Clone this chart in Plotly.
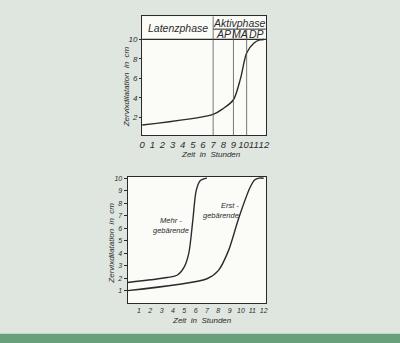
import plotly.graph_objects as go

# ---- data ----
top_hours = [0, 7, 8, 9, 9.7, 10.3, 11, 11.6, 12]
top_dilation = [1.2, 2.3, 2.9, 3.8, 6.0, 8.6, 9.6, 9.95, 10]

mehr_hours = [0, 3.5, 4.4, 5.0, 5.4, 5.75, 6.05, 6.4, 7.0]
mehr_dilation = [1.65, 2.05, 2.25, 2.9, 4.0, 6.6, 9.0, 9.8, 10]

erst_hours = [0, 7, 8, 8.9, 9.8, 10.8, 11.2, 11.6, 12]
erst_dilation = [1.0, 1.95, 2.6, 4.2, 6.8, 9.25, 9.85, 10, 10]

top_xticks = list(range(0, 13))
top_yticks = [2, 4, 6, 8, 10]
bot_xticks = list(range(1, 13))
bot_yticks = list(range(1, 11))

phase_bounds = [7, 9, 10.3]          # Latenz | AP | MA | DP
phase_labels = ["AP", "MA", "DP"]

BG = "#dfe6e0"
PLOT_BG = "#fbfbf8"
INK = "#2b2b2b"
FONT = "Liberation Sans"

fig = go.Figure()

line_style = dict(color=INK, width=1.4, shape="spline", smoothing=0.8)
fig.add_trace(go.Scatter(x=top_hours, y=top_dilation, mode="lines", line=line_style,
                         xaxis="x", yaxis="y", showlegend=False, hoverinfo="skip"))
fig.add_trace(go.Scatter(x=mehr_hours, y=mehr_dilation, mode="lines", line=line_style,
                         xaxis="x2", yaxis="y2", showlegend=False, hoverinfo="skip"))
fig.add_trace(go.Scatter(x=erst_hours, y=erst_dilation, mode="lines", line=line_style,
                         xaxis="x2", yaxis="y2", showlegend=False, hoverinfo="skip"))

tick_font_top = dict(family=FONT, size=9.5, color=INK, style="italic")
tick_font_bot = dict(family=FONT, size=7, color=INK, style="italic")

HEADER_TOP = 12.39
HEADER_MID = 11.06

fig.update_layout(
    width=400, height=343,
    margin=dict(l=0, r=0, t=0, b=0),
    paper_bgcolor=BG, plot_bgcolor=PLOT_BG,
    font=dict(family=FONT, color=INK),
    xaxis=dict(domain=[0.354, 0.669], range=[0, 12.2], tickvals=top_xticks,
               showgrid=False, zeroline=False, showline=True, mirror=True,
               linecolor=INK, linewidth=1, ticks="", tickfont=tick_font_top,
               tickangle=0, anchor="y"),
    yaxis=dict(domain=[0.6093, 0.9583], range=[0.15, HEADER_TOP], tickvals=top_yticks,
               showgrid=False, zeroline=False, showline=True, mirror=True,
               linecolor=INK, linewidth=1, ticks="outside", ticklen=2, tickcolor=INK,
               tickfont=dict(family=FONT, size=8, color=INK, style="italic"),
               anchor="x"),
    xaxis2=dict(domain=[0.317, 0.669], range=[0, 12.2], tickvals=bot_xticks,
                showgrid=False, zeroline=False, showline=True, mirror=True,
                linecolor=INK, linewidth=1, ticks="", tickfont=tick_font_bot,
                tickangle=0, anchor="y2"),
    yaxis2=dict(domain=[0.117, 0.487], range=[0, 10.1], tickvals=bot_yticks,
                showgrid=False, zeroline=False, showline=True, mirror=True,
                linecolor=INK, linewidth=1, ticks="outside", ticklen=3, tickcolor=INK,
                tickfont=tick_font_bot, anchor="x2"),
)

shapes = []
shapes.append(dict(type="line", xref="x domain", yref="y", x0=0, x1=1, y0=10, y1=10,
                   line=dict(color=INK, width=1.2)))
shapes.append(dict(type="line", xref="x", yref="y", x0=phase_bounds[0], x1=12.2,
                   y0=HEADER_MID, y1=HEADER_MID, line=dict(color=INK, width=1)))
shapes.append(dict(type="line", xref="x", yref="y", x0=phase_bounds[0], x1=phase_bounds[0],
                   y0=0.15, y1=HEADER_TOP, line=dict(color="#555", width=0.8)))
for b in phase_bounds[1:]:
    shapes.append(dict(type="line", xref="x", yref="y", x0=b, x1=b,
                       y0=0.15, y1=HEADER_MID, line=dict(color="#555", width=0.8)))
shapes.append(dict(type="rect", xref="paper", yref="paper", x0=-0.1, x1=1.1, y0=-0.1, y1=0.027,
                   fillcolor="#67a07b", line=dict(width=0), layer="below"))
fig.update_layout(shapes=shapes)

hfont = dict(family=FONT, size=10.5, color=INK, style="italic")
annotations = [
    dict(text="Latenzphase", x=phase_bounds[0] / 2, y=(10 + HEADER_TOP) / 2,
         xref="x", yref="y", showarrow=False, font=hfont),
    dict(text="Aktivphase", x=(phase_bounds[0] + 12.2) / 2, y=(HEADER_MID + HEADER_TOP) / 2,
         xref="x", yref="y", showarrow=False, font=hfont),
]
edges = phase_bounds + [12.2]
for i, lab in enumerate(phase_labels):
    annotations.append(dict(text=lab, x=(edges[i] + edges[i + 1]) / 2,
                            y=(10 + HEADER_MID) / 2, xref="x", yref="y",
                            showarrow=False, font=hfont))

tfont = dict(family=FONT, size=8, color=INK, style="italic")
common = dict(xref="paper", yref="paper", showarrow=False, font=tfont,
              xanchor="center", yanchor="middle")
lfont = dict(family=FONT, size=7.5, color=INK, style="italic")
annotations += [
    dict(text="Zeit  in  Stunden", x=211.7 / 400, y=1 - 153 / 343, **common),
    dict(text="Zervixdilatation  in  cm", x=126 / 400, y=1 - 85 / 343, textangle=-90, **common),
    dict(text="Zeit  in  Stunden", x=203 / 400, y=1 - 320 / 343, **common),
    dict(text="Zervixdilatation  in  cm", x=111 / 400, y=1 - 243 / 343, textangle=-90, **common),
    dict(text="Mehr -<br>gebärende", x=3.8, y=6.2, xref="x2", yref="y2",
         showarrow=False, font=lfont),
    dict(text="Erst -<br>gebärende", x=8.2, y=7.4, xref="x2", yref="y2", align="right",
         showarrow=False, font=lfont),
]
fig.update_layout(annotations=annotations)

fig.write_html("out.html")
